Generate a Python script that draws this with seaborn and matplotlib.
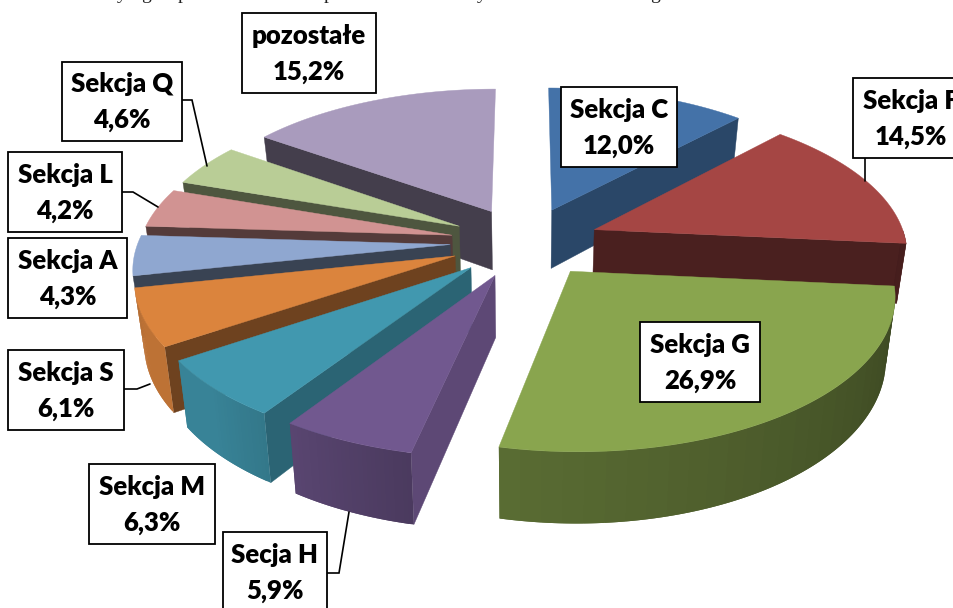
import numpy as np
import pandas as pd
import seaborn as sns
import matplotlib
matplotlib.use("Agg")
import matplotlib.pyplot as plt
from matplotlib.patches import Rectangle

sections = ["Sekcja C", "Sekcja F", "Sekcja G", "Secja H", "Sekcja M",
            "Sekcja S", "Sekcja A", "Sekcja L", "Sekcja Q", "pozostałe"]
shares = [12.0, 14.5, 26.9, 5.9, 6.3, 6.1, 4.3, 4.2, 4.6, 15.2]

top_colors = ["#4472A8", "#A54644", "#89A54E", "#71588F", "#4198AF",
              "#DB843D", "#8FA7D0", "#D19392", "#B9CD96", "#A99BBD"]
wall_shade = [0.62, 0.45, 0.65, 0.82, 0.66, 0.50, 0.40, 0.40, 0.42, 0.40]

# label boxes in picture pixels: left, top, right, bottom
label_boxes = {
    "Sekcja C": (561, 87, 677, 167),
    "Sekcja F": (853, 78, 975, 158),
    "Sekcja G": (640, 322, 760, 402),
    "Secja H": (223, 532, 327, 612),
    "Sekcja M": (89, 464, 215, 544),
    "Sekcja S": (8, 350, 124, 430),
    "Sekcja A": (8, 238, 127, 318),
    "Sekcja L": (8, 152, 122, 232),
    "Sekcja Q": (62, 62, 182, 141),
    "pozostałe": (242, 13, 376, 93),
}
leaders = {
    "Sekcja F": [(865, 158), (865, 181)],
    "Secja H": [(327, 573), (339, 573), (349, 512)],
    "Sekcja S": [(124, 389), (137, 389), (150, 384)],
    "Sekcja L": [(122, 192), (133, 192), (158, 207)],
    "Sekcja Q": [(182, 100), (192, 100), (207, 166)],
}

# pie geometry, fitted to the picture
CX, CY = 525, 242
RX, RY = 312, 147
PERSP = 0.137
EXPLODE = 0.24
DEPTH = 60


def project(x, y):
    w = 1 + PERSP * y
    return CX + RX * x / w, CY - RY * y / w, w


def bottom_of(px, py, w):
    return CX + (px - CX) * 0.975, py + DEPTH / w


def darker(color, f):
    return tuple(c * f for c in color)


def side_shade(theta):
    return np.interp(theta, [90, 192, 225, 270], [0.42, 0.66, 0.86, 0.87])


def draw_slice(ax, row):
    t1, t2, mid = row.start, row.end, row.mid
    ox = EXPLODE * np.sin(np.radians(mid))
    oy = EXPLODE * np.cos(np.radians(mid))
    color = row.color

    apex = project(ox, oy)
    apex_low = bottom_of(*apex)

    def rim(t):
        return project(ox + np.sin(np.radians(t)), oy + np.cos(np.radians(t)))

    # radial walls that face the viewer
    for t, visible in [(t1, np.sin(np.radians(t1)) < 0), (t2, np.sin(np.radians(t2)) > 0)]:
        if visible:
            p = rim(t)
            low = bottom_of(*p)
            wall = darker(color, row.shade)
            ax.fill([apex[0], p[0], low[0], apex_low[0]], [apex[1], p[1], low[1], apex_low[1]],
                    color=wall, lw=0.3, zorder=row.order)

    # curved outer wall, only the front part; strips overlap so no seams show
    a, b = max(t1, 90), min(t2, 258)
    if b > a:
        steps = np.linspace(a, b, 30)
        for i, s1 in enumerate(steps[:-1]):
            arc = np.linspace(s1, b if i + 2 >= len(steps) else steps[i + 2], 6)
            upper = [rim(t) for t in arc]
            lower = [bottom_of(*p) for p in upper]
            ax.fill([p[0] for p in upper] + [p[0] for p in lower[::-1]],
                    [p[1] for p in upper] + [p[1] for p in lower[::-1]],
                    color=darker(color, side_shade(s1)), lw=0, zorder=row.order + 0.1)

    # top face
    arc = [rim(t) for t in np.linspace(t1, t2, 80)]
    xs = [apex[0]] + [p[0] for p in arc]
    ys = [apex[1]] + [p[1] for p in arc]
    ax.fill(xs, ys, color=color, lw=0.3, zorder=row.order + 0.2)


df = pd.DataFrame({"section": sections, "share": shares, "shade": wall_shade})
df["color"] = list(sns.color_palette(top_colors))
df["end"] = df["share"].cumsum() * 3.6
df["start"] = df["end"] - df["share"] * 3.6
df["mid"] = (df["start"] + df["end"]) / 2
df["back"] = np.cos(np.radians(df["mid"]))
df = df.sort_values("back", ascending=False).reset_index(drop=True)
df["order"] = df.index + 1

sns.set_theme(style="white")
plt.rcParams["font.family"] = ["Lato", "DejaVu Sans"]

fig = plt.figure(figsize=(9.54, 6.08), dpi=100)
ax = fig.add_axes([0, 0, 1, 1])
ax.set_xlim(0, 954)
ax.set_ylim(608, 0)
ax.axis("off")

for row in df.itertuples():
    draw_slice(ax, row)

for name, pts in leaders.items():
    ax.plot([p[0] for p in pts], [p[1] for p in pts], color="black", lw=1.2, zorder=30,
            solid_joinstyle="miter")

for row in df.itertuples():
    left, top, right, bottom = label_boxes[row.section]
    ax.add_patch(Rectangle((left, top), right - left, bottom - top, facecolor="white",
                           edgecolor="black", lw=1.3, zorder=40, clip_on=False))
    cx = 911 if row.section == "Sekcja F" else (left + right) / 2
    ax.text(cx, (top + bottom) / 2 - 17, row.section, ha="center", va="center",
            fontsize=18.5, fontweight="heavy", color="black", zorder=41)
    ax.text(cx, (top + bottom) / 2 + 19, f"{row.share:.1f}%".replace(".", ","), ha="center",
            va="center", fontsize=18.5, fontweight="heavy", color="black", zorder=41)

# descenders of the caption cut off by the top edge
for x, letter in zip([122, 146, 183, 329, 482, 655], "ygppyg"):
    ax.text(x, -1, letter, ha="center", va="baseline", fontsize=14,
            family="Liberation Serif", color="#222222", zorder=5, clip_on=True)

fig.savefig("out.png", dpi=100)
